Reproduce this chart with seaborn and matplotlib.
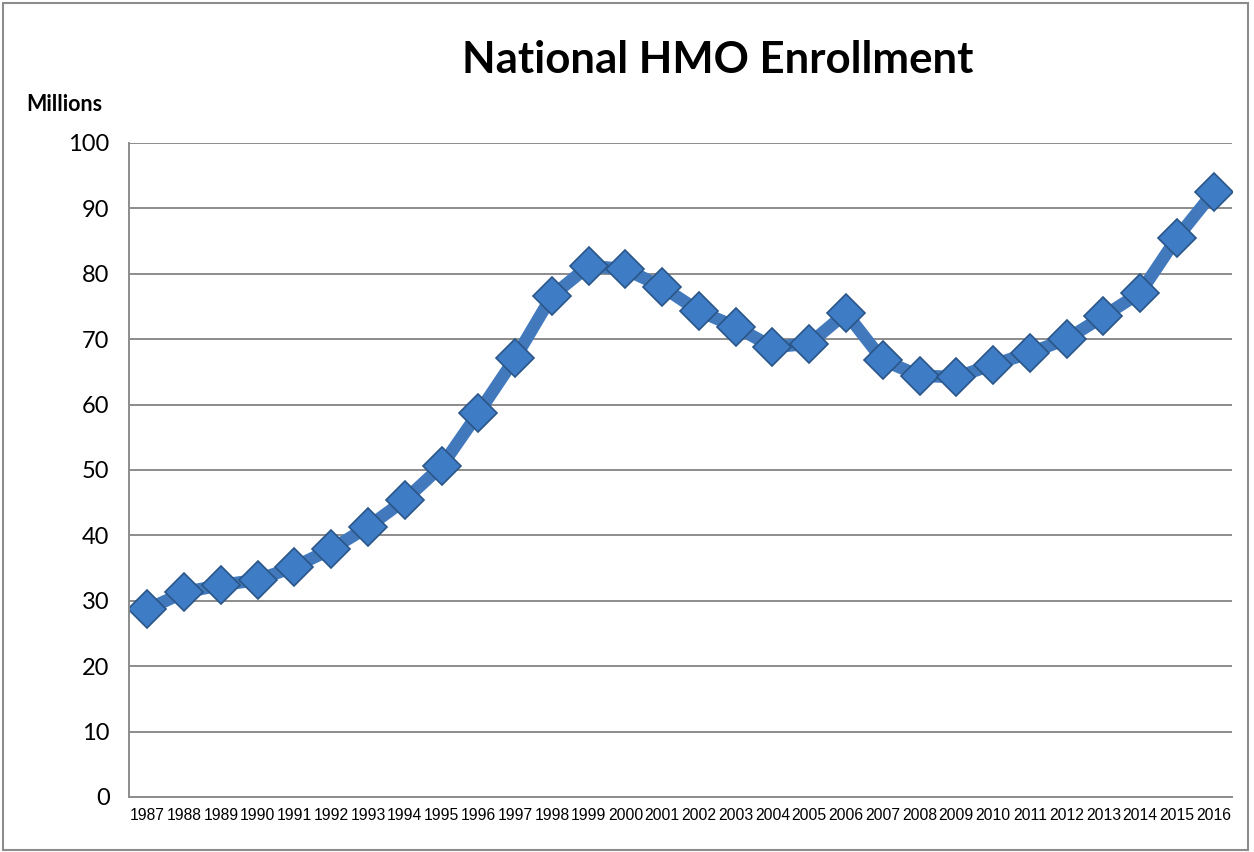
import numpy as np
import pandas as pd
import matplotlib
matplotlib.use("Agg")
import matplotlib.pyplot as plt
from matplotlib.patches import Rectangle
import seaborn as sns

# enrollment data (millions)
years = [str(y) for y in range(1987, 2017)]
enrollment = [28.7, 31.3, 32.4, 33.2, 35.2, 37.9, 41.3, 45.4, 50.6, 58.7,
              67.1, 76.6, 81.2, 80.7, 78.0, 74.3, 71.9, 68.8, 69.3, 74.0,
              66.8, 64.4, 64.2, 66.1, 67.9, 70.0, 73.5, 77.1, 85.5, 92.5]
y_ticks = [0, 10, 20, 30, 40, 50, 60, 70, 80, 90, 100]

df = pd.DataFrame({"year": years, "enrollment": enrollment})

sns.set_theme(style="white")
plt.rcParams["font.family"] = ["Lato", "DejaVu Sans"]
plt.rcParams["text.color"] = "black"
plt.rcParams["xtick.labelcolor"] = "black"
plt.rcParams["ytick.labelcolor"] = "black"

fig = plt.figure(figsize=(12.54, 8.52), dpi=100)
ax = fig.add_axes([0.1029, 0.0646, 0.8796, 0.7676])

line_color = "#4279BC"

# line with diamond markers
sns.lineplot(data=df, x="year", y="enrollment", sort=False, color=line_color,
             linewidth=9, marker="D", markersize=19.5,
             markerfacecolor="#3F7CC6", markeredgecolor="#2A5587",
             markeredgewidth=1.2, ax=ax)

# axis limits and ticks
n = len(years)
ax.set_xlim(-0.5, n - 0.5)
ax.set_ylim(0, 100)
ax.set_yticks(y_ticks)
ax.set_yticklabels([str(t) for t in y_ticks], fontsize=17)

ax.set_xticks(np.arange(-0.5, n, 1.0))
ax.set_xticklabels([])
ax.set_xticks(np.arange(n), minor=True)
ax.set_xticklabels(years, minor=True, fontsize=11.3, family="Liberation Sans")
ax.tick_params(axis="x", which="major", length=5, width=1.2, color="#8C8C8C",
               direction="out")
ax.tick_params(axis="x", which="minor", length=0, pad=8)
ax.tick_params(axis="y", length=6, width=1.2, color="#8C8C8C", direction="out",
               pad=8)

# horizontal grid lines
ax.yaxis.grid(True, color="#8C8C8C", linewidth=1.4)
ax.xaxis.grid(False)
ax.set_axisbelow(True)

for side in ["top", "right"]:
    ax.spines[side].set_visible(False)
for side in ["left", "bottom"]:
    ax.spines[side].set_color("#8C8C8C")
    ax.spines[side].set_linewidth(1.4)

ax.set_xlabel("")
ax.set_ylabel("")

# titles
fig.text(0.572, 0.929, "National HMO Enrollment", ha="center", va="center",
         fontsize=31.5, fontweight="bold")
fig.text(0.021, 0.877, "Millions", ha="left", va="center", fontsize=15.5,
         fontweight="bold")

# chart border
fig.patches.append(Rectangle((0.002, 0.002), 0.993, 0.994,
                             transform=fig.transFigure, fill=False,
                             edgecolor="#8C8C8C", linewidth=1.5))

fig.savefig("out.png", dpi=100)
